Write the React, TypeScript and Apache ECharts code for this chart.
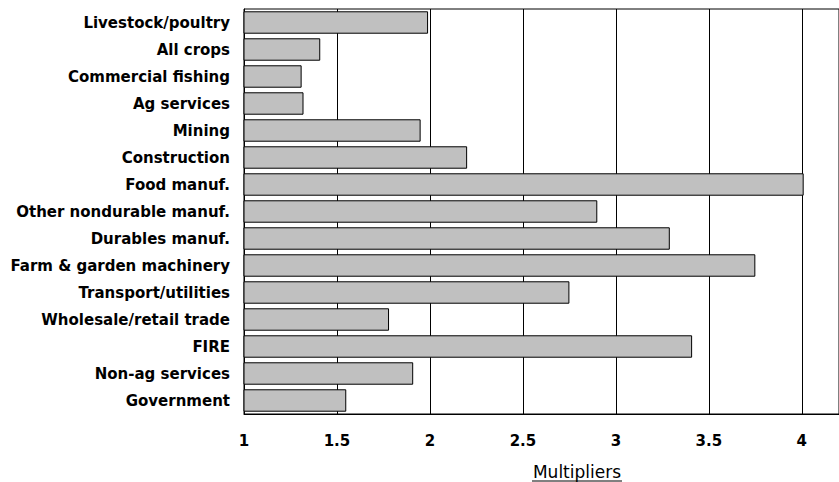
import React, { useEffect, useRef } from "react";
import * as echarts from "echarts";

// Sectors, listed top to bottom
const sectors: string[] = [
  "Livestock/poultry",
  "All crops",
  "Commercial fishing",
  "Ag services",
  "Mining",
  "Construction",
  "Food manuf.",
  "Other nondurable manuf.",
  "Durables manuf.",
  "Farm & garden machinery",
  "Transport/utilities",
  "Wholesale/retail trade",
  "FIRE",
  "Non-ag services",
  "Government",
];

// Output multiplier for each sector
const multipliers: number[] = [
  1.99, 1.41, 1.31, 1.32, 1.95, 2.2, 4.01, 2.9, 3.29, 3.75, 2.75, 1.78, 3.41,
  1.91, 1.55,
];

const axisTitle = "Multipliers";

const FONT = "'DejaVu Sans', 'Liberation Sans', Arial, sans-serif";

export default function App() {
  const ref = useRef<HTMLDivElement>(null);

  useEffect(() => {
    if (!ref.current) return;
    const chart = echarts.init(ref.current, null, { renderer: "svg" });
    chart.setOption({
      animation: false,
      backgroundColor: "#ffffff",
      grid: {
        left: 244,
        top: 9,
        right: -3,
        bottom: 68,
        show: true,
        borderColor: "#000",
        borderWidth: 1,
        backgroundColor: "transparent",
      },
      xAxis: {
        type: "value",
        min: 1,
        max: 4.2,
        interval: 0.5,
        axisLine: { show: true, lineStyle: { color: "#000", width: 1 } },
        axisTick: { show: false },
        axisLabel: {
          color: "#000",
          fontFamily: FONT,
          fontWeight: "bold",
          fontSize: 15,
          margin: 19,
          showMaxLabel: false,
          formatter: (v: number) =>
            Math.abs(v * 2 - Math.round(v * 2)) < 1e-6 ? String(v) : "",
        },
        splitLine: { show: true, lineStyle: { color: "#000", width: 1 } },
      },
      yAxis: {
        type: "category",
        data: sectors,
        inverse: true,
        axisLine: { show: true, lineStyle: { color: "#000", width: 1 } },
        axisTick: { show: false },
        axisLabel: {
          color: "#000",
          fontFamily: FONT,
          fontWeight: "bold",
          fontSize: 15,
          margin: 14,
        },
        splitLine: { show: false },
      },
      series: [
        {
          type: "bar",
          data: multipliers,
          barCategoryGap: "17%",
          clip: true,
          itemStyle: {
            color: "#c0c0c0",
            borderColor: "#000",
            borderWidth: 1,
          },
        },
      ],
      graphic: [
        {
          type: "text",
          x: 577,
          y: 472,
          style: {
            text: axisTitle,
            fill: "#000",
            font: `normal 17px ${FONT}`,
            textAlign: "center",
            textVerticalAlign: "middle",
          },
        },
        {
          type: "line",
          shape: { x1: 532, y1: 481, x2: 622, y2: 481 },
          style: { stroke: "#000", lineWidth: 1 },
        },
      ],
    });
    return () => chart.dispose();
  }, []);

  return (
    <div
      ref={ref}
      style={{ position: "fixed", left: 0, top: 0, width: 839, height: 482 }}
    />
  );
}
